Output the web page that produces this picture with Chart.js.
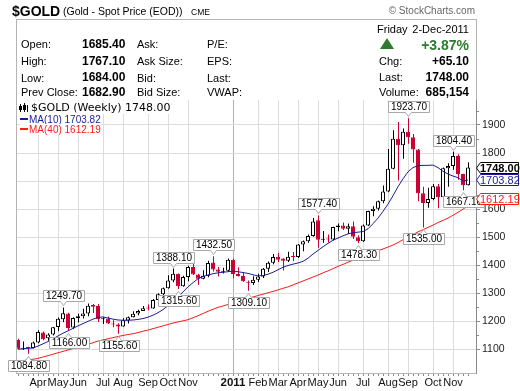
<!DOCTYPE html>
<html><head><meta charset="utf-8">
<script src="https://cdn.jsdelivr.net/npm/chart.js@4.4.0/dist/chart.umd.min.js"></script>
<style>
html,body{margin:0;padding:0;background:#fff;}
#wrap{position:relative;width:520px;height:391px;overflow:hidden;font-family:'Liberation Sans',Arial,sans-serif;color:#000;background:#fff;}
#frame{position:absolute;left:16px;top:19px;width:461px;height:355px;box-sizing:border-box;border:1px solid #b4b4b4;border-bottom:none;}
#c{position:absolute;left:0;top:0;}
.t{position:absolute;white-space:nowrap;font-size:11px;line-height:14px;}
.v{font-weight:bold;font-size:12px;}
.rt{text-align:right;}
.lg{background:#fff;}
</style></head>
<body>
<div id="wrap">
  <div id="frame"></div>
  <canvas id="c" width="520" height="391"></canvas>

  <div class="t" style="left:12px;top:3px;font-size:14px;line-height:16px;font-weight:bold;">$GOLD</div>
  <div class="t" style="left:63px;top:4px;font-size:10.5px;">(Gold - Spot Price (EOD))</div>
  <div class="t" style="left:191px;top:6px;font-size:8.5px;line-height:12px;">CME</div>
  <div class="t rt" style="right:45px;top:5px;font-size:10px;line-height:12px;color:#666;">© StockCharts.com</div>

  <div class="t" style="left:21px;top:37px;">Open:</div>
  <div class="t" style="left:21px;top:54px;">High:</div>
  <div class="t" style="left:21px;top:71px;">Low:</div>
  <div class="t" style="left:21px;top:85px;">Prev Close:</div>
  <div class="t v" style="left:82px;top:37px;">1685.40</div>
  <div class="t v" style="left:82px;top:54px;">1767.10</div>
  <div class="t v" style="left:82px;top:70px;">1684.00</div>
  <div class="t v" style="left:82px;top:85px;">1682.90</div>
  <div class="t" style="left:137px;top:37px;">Ask:</div>
  <div class="t" style="left:137px;top:54px;">Ask Size:</div>
  <div class="t" style="left:137px;top:71px;">Bid:</div>
  <div class="t" style="left:137px;top:85px;">Bid Size:</div>
  <div class="t" style="left:207px;top:37px;">P/E:</div>
  <div class="t" style="left:207px;top:54px;">EPS:</div>
  <div class="t" style="left:207px;top:71px;">Last:</div>
  <div class="t" style="left:207px;top:85px;">VWAP:</div>

  <div class="t" style="left:377px;top:22px;">Friday</div>
  <div class="t rt" style="right:51px;top:22px;">2-Dec-2011</div>
  <div style="position:absolute;left:380px;top:38px;width:0;height:0;border-left:7.5px solid transparent;border-right:7.5px solid transparent;border-bottom:11px solid #2e7a2e;"></div>
  <div class="t rt" style="right:51px;top:37px;font-size:14px;line-height:16px;font-weight:bold;color:#2e7a2e;">+3.87%</div>
  <div class="t" style="left:379px;top:54px;">Chg:</div>
  <div class="t v rt" style="right:51px;top:54px;">+65.10</div>
  <div class="t" style="left:379px;top:70px;">Last:</div>
  <div class="t v rt" style="right:51px;top:70px;">1748.00</div>
  <div class="t" style="left:379px;top:85px;">Volume:</div>
  <div class="t v rt" style="right:51px;top:85px;">685,154</div>

  <div class="t lg" style="left:19px;top:102px;height:12px;width:10px;">
    <div style="position:absolute;left:1px;top:2px;width:1px;height:8px;background:#000;"></div>
    <div style="position:absolute;left:0px;top:4px;width:3px;height:4px;background:#000;"></div>
    <div style="position:absolute;left:5px;top:1px;width:1px;height:9px;background:#000;"></div>
    <div style="position:absolute;left:4px;top:3px;width:3px;height:5px;background:#000;"></div>
    <div style="position:absolute;left:8px;top:3px;width:1px;height:7px;background:#000;"></div>
  </div>
  <div class="t lg" style="left:31px;top:101px;font-family:'DejaVu Sans',Verdana,sans-serif;font-size:11px;line-height:13px;">$GOLD (Weekly) 1748.00</div>
  <div class="t lg" style="left:20px;top:114px;font-size:10px;line-height:11px;color:#1c1c99;"><span style="display:inline-block;width:8px;height:2px;background:#1c1c99;vertical-align:3px;margin-right:1px;"></span>MA(10) 1703.82</div>
  <div class="t lg" style="left:20px;top:124px;font-size:10px;line-height:11px;color:#ff1a1a;"><span style="display:inline-block;width:8px;height:2px;background:#ff1a1a;vertical-align:3px;margin-right:1px;"></span>MA(40) 1612.19</div>
</div>

<script>
// ---------- DATA (weekly) ----------
const weeks = [
 '2010-03-12','2010-03-19','2010-03-26','2010-04-02','2010-04-09','2010-04-16','2010-04-23','2010-04-30','2010-05-07','2010-05-14',
 '2010-05-21','2010-05-28','2010-06-04','2010-06-11','2010-06-18','2010-06-25','2010-07-02','2010-07-09','2010-07-16','2010-07-23',
 '2010-07-30','2010-08-06','2010-08-13','2010-08-20','2010-08-27','2010-09-03','2010-09-10','2010-09-17','2010-09-24','2010-10-01',
 '2010-10-08','2010-10-15','2010-10-22','2010-10-29','2010-11-05','2010-11-12','2010-11-19','2010-11-26','2010-12-03','2010-12-10',
 '2010-12-17','2010-12-24','2010-12-31','2011-01-07','2011-01-14','2011-01-21','2011-01-28','2011-02-04','2011-02-11','2011-02-18',
 '2011-02-25','2011-03-04','2011-03-11','2011-03-18','2011-03-25','2011-04-01','2011-04-08','2011-04-15','2011-04-22','2011-04-29',
 '2011-05-06','2011-05-13','2011-05-20','2011-05-27','2011-06-03','2011-06-10','2011-06-17','2011-06-24','2011-07-01','2011-07-08',
 '2011-07-15','2011-07-22','2011-07-29','2011-08-05','2011-08-12','2011-08-19','2011-08-26','2011-09-02','2011-09-09','2011-09-16',
 '2011-09-23','2011-09-30','2011-10-07','2011-10-14','2011-10-21','2011-10-28','2011-11-04','2011-11-11','2011-11-18','2011-11-25',
 '2011-12-02'];

const open = [
 1134,1102,1106,1105,1125,1160,1140,1153,1180,1208,
 1228,1178,1212,1218,1228,1258,1255,1208,1210,1192,
 1189,1182,1203,1215,1228,1237,1248,1246,1276,1297,
 1318,1346,1370,1325,1358,1394,1367,1352,1363,1410,
 1385,1377,1380,1420,1369,1362,1341,1337,1348,1360,
 1388,1409,1430,1424,1416,1430,1429,1474,1486,1504,
 1560,1491,1493,1492,1536,1542,1530,1539,1500,1486,
 1542,1593,1601,1628,1663,1744,1851,1828,1876,1856,
 1813,1657,1622,1636,1682,1642,1746,1754,1789,1725,
 1685.4];
const high = [
 1138,1128,1110,1128,1168,1164,1158,1180,1214,1249.7,
 1231,1215,1227,1245,1264,1262,1262,1215,1217,1204,
 1193,1211,1217,1236,1241,1255,1260,1280,1300,1321,
 1364,1388.1,1371,1363,1398,1424,1370,1382,1416,1432.5,
 1394,1391,1424,1423,1393,1372,1346,1361,1370,1390,
 1413,1440,1445,1425,1448,1447,1476,1488,1510,1568,
 1577.4,1522,1510,1537,1549,1552,1549,1556,1507,1545,
 1594,1610,1631,1684,1814,1881,1911,1887,1923.7,1868,
 1814,1680,1676,1690,1690,1748,1764,1804.4,1796,1726,
 1767.1];
const low = [
 1100,1098,1084.8,1103,1122,1133,1131,1150,1165,1197,
 1166,1173,1196,1210,1218,1230,1198,1191,1191,1179,
 1155.6,1181,1192,1214,1222,1237,1240,1245,1271,1290,
 1316,1339,1315.6,1323,1343,1365,1330,1350,1357,1378,
 1360,1371,1377,1354,1360,1341,1309.1,1330,1340,1355,
 1376,1404,1412,1381,1412,1414,1426,1450,1480,1502,
 1462,1480,1481,1489,1521,1526,1511,1494,1478.3,1483,
 1540,1575,1595,1621,1660,1742,1702,1780,1833,1765,
 1628,1535,1605,1632,1603,1617,1680,1740,1705,1667.1,
 1684];
const close = [
 1102,1106,1105,1125,1162,1136,1153,1179,1209,1229,
 1176,1212,1218,1228,1256,1252,1208,1210,1192,1189,
 1182,1204,1215,1227,1237,1247,1246,1276,1297,1318,
 1346,1370,1325,1358,1394,1367,1352,1363,1408,1385,
 1377,1380,1420,1369,1362,1343,1338,1348,1360,1388,
 1409,1429,1420,1416,1430,1429,1474,1486,1504,1556,
 1491,1493,1492,1536,1542,1530,1539,1502,1486,1542,
 1593,1601,1628,1663,1744,1851,1828,1876,1856,1813,
 1657,1622,1636,1682,1642,1746,1754,1789,1725,1685,
 1748];
const ma10 = [
 1101,1102,1104,1105,1112,1120,1128,1138,1148,1158,
 1166,1175,1184,1192,1200,1208,1214,1216,1212,1208,
 1205,1204,1204,1205,1207,1210,1215,1222,1231,1242,
 1256,1270,1287,1305,1323,1338,1352,1360,1365,1370,
 1373,1375,1377,1379,1377,1374,1371,1366,1362,1363,
 1368,1375,1384,1393,1399,1404,1408,1414,1425,1440,
 1453,1466,1478,1489,1497,1505,1512,1516,1518,1520,
 1530,1548,1568,1592,1618,1648,1680,1708,1733,1748,
 1755,1756,1756,1757,1748,1735,1725,1718,1712,1700,
 1703.82];
const ma40 = [
 1058,1060,1063,1065,1068,1073,1078,1083,1088,1093,
 1098,1103,1108,1113,1118,1124,1130,1134,1138,1142,
 1146,1150,1153,1156,1160,1165,1169,1174,1179,1184,
 1189,1194,1198,1202,1206,1213,1220,1228,1236,1243,
 1250,1255,1260,1266,1271,1276,1282,1287,1292,1297,
 1302,1307,1312,1318,1323,1330,1337,1344,1351,1358,
 1365,1373,1380,1388,1396,1403,1411,1418,1424,1431,
 1438,1445,1452,1458,1465,1472,1481,1491,1500,1510,
 1519,1527,1535,1543,1552,1560,1568,1578,1589,1600,
 1612.19];

const monthTickWeeks = ['2010-04-09','2010-05-07','2010-06-04','2010-07-09','2010-08-06','2010-09-10','2010-10-08','2010-11-05',
  '2011-01-07','2011-02-11','2011-03-11','2011-04-08','2011-05-06','2011-06-03','2011-07-08','2011-08-12','2011-09-09','2011-10-14','2011-11-11'];
const monthTickLabels = ['Apr','May','Jun','Jul','Aug','Sep','Oct','Nov','2011','Feb','Mar','Apr','May','Jun','Jul','Aug','Sep','Oct','Nov'];
const priceTicks = [1100,1200,1300,1400,1500,1600,1700,1800,1900];

const swingWeeks  = ['2010-03-26','2010-05-14','2010-05-21','2010-07-30','2010-10-15','2010-10-22','2010-12-10','2011-01-28','2011-05-06','2011-07-01','2011-09-09','2011-09-30','2011-11-11','2011-11-25'];
const swingValues = [1084.80,1249.70,1166.00,1155.60,1388.10,1315.60,1432.50,1309.10,1577.40,1478.30,1923.70,1535.00,1804.40,1667.10];
const swingSides  = ['low','high','low','low','high','low','high','low','high','low','high','low','high','low'];

// ---------- STYLE ----------
const RED = '#cc0033', UPFILL = '#ffffff', UPLINE = '#000000';
const BLUE = '#1c1c99', MARED = '#ff1a1a';
const FONT = "'Liberation Sans', Arial, sans-serif";

const idx = weeks.map((d, i) => i);
const isUp = idx.map(i => close[i] >= open[i]);
const wickData = idx.map(i => ({x: i, y: [low[i], high[i]]}));
const bodyData = idx.map(i => ({x: i, y: [Math.min(open[i], close[i]), Math.max(open[i], close[i])]}));
const ma10Data = idx.map(i => ({x: i, y: ma10[i]}));
const ma40Data = idx.map(i => ({x: i, y: ma40[i]}));
const monthTickIdx = monthTickWeeks.map(w => weeks.indexOf(w));

const WICK_DS = 3;

const crispWick = {
  id: 'crispWick',
  beforeDatasetDraw(chart, args) { if (args.index === WICK_DS) { chart.ctx.save(); chart.ctx.translate(0.5, 0); } },
  afterDatasetDraw(chart, args) { if (args.index === WICK_DS) { chart.ctx.restore(); } }
};

const swingLabels = {
  id: 'swingLabels',
  afterDatasetsDraw(chart) {
    const {ctx, scales: {x, y}} = chart;
    ctx.save();
    ctx.font = '10px ' + FONT;
    ctx.textBaseline = 'middle';
    ctx.textAlign = 'center';
    swingWeeks.forEach((w, k) => {
      const i = weeks.indexOf(w);
      const val = swingValues[k];
      const above = swingSides[k] === 'high';
      const px = Math.round(x.getPixelForValue(i)) + 0.5;
      const py = y.getPixelForValue(val);
      const txt = val.toFixed(2);
      const bw = Math.ceil(ctx.measureText(txt).width) + 4;
      const bh = 11;
      const left = Math.round(px - bw / 2) + 0.5;
      const top = above ? Math.round(py - 6 - bh) + 0.5 : Math.round(py + 6) + 0.5;
      ctx.beginPath();
      if (above) {
        ctx.moveTo(left, top); ctx.lineTo(left + bw, top); ctx.lineTo(left + bw, top + bh);
        ctx.lineTo(px + 3, top + bh); ctx.lineTo(px, top + bh + 4); ctx.lineTo(px - 3, top + bh);
        ctx.lineTo(left, top + bh); ctx.closePath();
      } else {
        ctx.moveTo(left, top + bh); ctx.lineTo(left, top); ctx.lineTo(px - 3, top);
        ctx.lineTo(px, top - 4); ctx.lineTo(px + 3, top); ctx.lineTo(left + bw, top);
        ctx.lineTo(left + bw, top + bh); ctx.closePath();
      }
      ctx.fillStyle = '#fff'; ctx.fill();
      ctx.strokeStyle = '#a8a8a8'; ctx.lineWidth = 1; ctx.stroke();
      ctx.fillStyle = '#000';
      ctx.fillText(txt, left + bw / 2, top + bh / 2 + 0.5);
    });
    ctx.restore();
  }
};

const rightBoxes = {
  id: 'rightBoxes',
  afterDraw(chart) {
    const {ctx, scales: {x, y}, chartArea} = chart;
    ctx.save();
    ctx.strokeStyle = '#8a8a8a'; ctx.lineWidth = 1;
    idx.forEach(i => {
      const px = Math.round(x.getPixelForValue(i)) + 0.5;
      ctx.beginPath(); ctx.moveTo(px, chartArea.bottom + 1); ctx.lineTo(px, chartArea.bottom + 3); ctx.stroke();
    });
    priceTicks.forEach(v => {
      const py = Math.round(y.getPixelForValue(v + 50)) + 0.5;
      if (py > chartArea.top) { ctx.beginPath(); ctx.moveTo(chartArea.right, py); ctx.lineTo(chartArea.right + 3, py); ctx.stroke(); }
    });
    const last = idx.length - 1;
    const boxes = [
      {v: close[last], color: '#000', bold: true, dy: 0},
      {v: ma10[last], color: BLUE, bold: false, dy: 0},
      {v: ma40[last], color: MARED, bold: false, dy: -7}
    ];
    boxes.forEach(b => {
      const cy = Math.round(y.getPixelForValue(b.v) + b.dy);
      const l = chartArea.right + 0.5, r = 518.5, t = cy - 6 + 0.5, btm = cy + 6 - 0.5;
      ctx.beginPath();
      ctx.moveTo(l, cy); ctx.lineTo(l + 4, t); ctx.lineTo(r, t); ctx.lineTo(r, btm); ctx.lineTo(l + 4, btm); ctx.closePath();
      ctx.fillStyle = '#fff'; ctx.fill();
      ctx.strokeStyle = b.color; ctx.lineWidth = 1; ctx.stroke();
      ctx.fillStyle = b.color;
      ctx.font = (b.bold ? 'bold ' : '') + '11px ' + FONT;
      ctx.textAlign = 'left'; ctx.textBaseline = 'middle';
      ctx.fillText(b.v.toFixed(2), l + 3.5, cy + 0.5);
    });
    ctx.restore();
  }
};

new Chart(document.getElementById('c'), {
  type: 'bar',
  data: {
    datasets: [
      {type: 'line', label: 'MA(10)', data: ma10Data, borderColor: BLUE, borderWidth: 1, pointRadius: 0, tension: 0, order: 0},
      {type: 'line', label: 'MA(40)', data: ma40Data, borderColor: MARED, borderWidth: 1, pointRadius: 0, tension: 0, order: 1},
      {type: 'bar', label: 'body', data: bodyData, grouped: false, barThickness: 4, inflateAmount: 0, minBarLength: 1,
        backgroundColor: idx.map(i => isUp[i] ? UPFILL : RED),
        borderColor: idx.map(i => isUp[i] ? UPLINE : RED),
        borderWidth: 1, borderSkipped: false, order: 2},
      {type: 'bar', label: 'wick', data: wickData, grouped: false, barThickness: 1, inflateAmount: 0,
        backgroundColor: idx.map(i => isUp[i] ? '#000' : RED), borderWidth: 0, order: 3}
    ]
  },
  options: {
    responsive: false,
    animation: false,
    events: [],
    layout: {padding: {left: 17, top: 100, right: 0, bottom: 0}},
    plugins: {legend: {display: false}, tooltip: {enabled: false}},
    scales: {
      x: {
        type: 'linear', min: -0.2, max: 91.6, offset: false,
        afterFit(s) { s.height = 18; },
        afterBuildTicks(s) { s.ticks = monthTickIdx.map(v => ({value: v})); },
        grid: {
          offset: false,
          drawTicks: false,
          color: ctx => (ctx.tick && monthTickLabels[ctx.index] === '2011') ? '#b0b0b0' : '#dcdcdc',
          lineWidth: 1
        },
        border: {display: true, color: '#b8b8b8'},
        ticks: {
          autoSkip: false, source: 'data', maxRotation: 0, minRotation: 0, padding: 3, color: '#111',
          font: ctx => (monthTickLabels[ctx.index] === '2011') ? {family: FONT, size: 11.5, weight: 'bold'} : {family: FONT, size: 11},
          callback: (v, i) => monthTickLabels[i]
        }
      },
      y: {
        type: 'linear', position: 'right', min: 1016, max: 1989, beginAtZero: false,
        afterFit(s) { s.width = 44; },
        afterBuildTicks(s) { s.ticks = priceTicks.map(v => ({value: v})); },
        grid: {color: '#dcdcdc', tickColor: '#8a8a8a', tickLength: 4, drawTicks: true},
        border: {display: true, color: '#8a8a8a'},
        ticks: {autoSkip: false, source: 'data', padding: 2, color: '#222', font: {family: FONT, size: 10.5}, callback: v => String(v)}
      }
    }
  },
  plugins: [crispWick, swingLabels, rightBoxes]
});
</script>
</body></html>
